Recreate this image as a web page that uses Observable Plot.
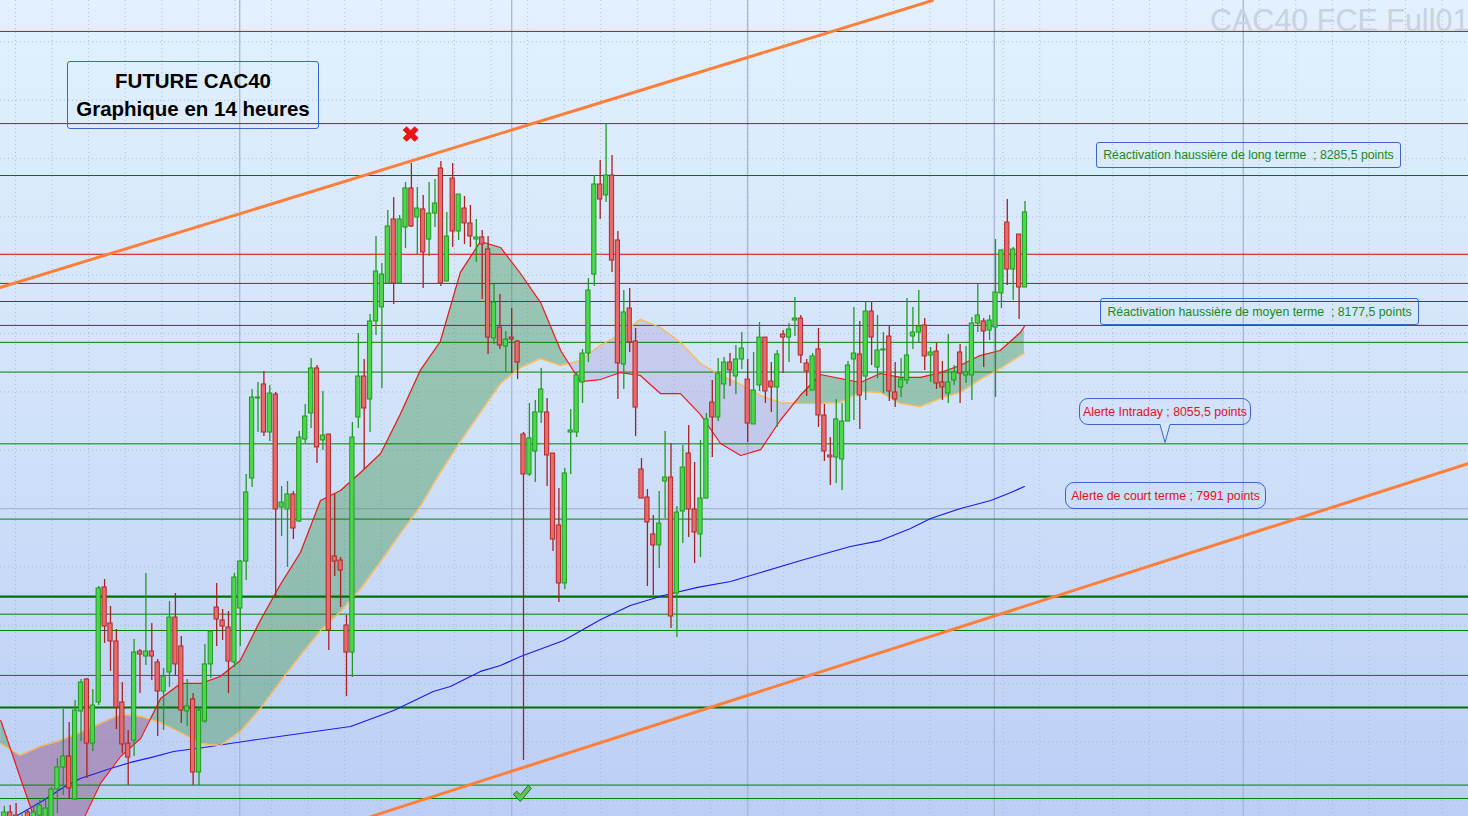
<!DOCTYPE html>
<html><head><meta charset="utf-8">
<script src="https://cdn.jsdelivr.net/npm/d3@7"></script>
<script src="https://cdn.jsdelivr.net/npm/@observablehq/plot@0.6"></script>
<style>
body{margin:0;background:#fff;}
#wrap{position:relative;width:1468px;height:816px;overflow:hidden;font-family:"Liberation Sans",Arial,sans-serif;}
.box{position:absolute;box-sizing:border-box;border:1px solid #3a66cc;display:flex;align-items:center;justify-content:center;white-space:pre;}
.title{left:67px;top:61px;width:252px;height:68px;border-radius:3px;flex-direction:column;font-weight:bold;font-size:20.5px;line-height:28px;color:#000;}
.lab{font-size:12.3px;}
.green{color:#1a8a1a;border-radius:3px;}
.red{color:#e8101a;border-radius:9px;}
#wm{position:absolute;left:1210px;top:3px;font-size:30.5px;color:#c6d3e0;white-space:nowrap;}
</style></head><body><div id="wrap"></div>
<script>
// ---- candle data (index = 14h bar) ----
const candleOpen=[7724.1,7739.5,7736.9,7719.8,7739.5,7728.4,7736.9,7732.6,7732.6,7759.2,7778.1,7787.5,7750.6,7826.1,7853.5,7798.6,7833.8,7932.4,7901.5,7886.1,7833.8,7798.6,7801.2,7877.5,7873.2,7877.5,7868.1,7843.2,7859.5,7906.6,7881.8,7826.1,7836.4,7773.8,7817.5,7866.4,7915.2,7904.1,7898.1,7868.1,7914.4,7954.6,8025.8,8094.4,8106.4,8065.2,8097.8,8000.9,7999.2,8012.1,7988.9,8059.2,8081.5,8120.1,8058.4,8063.5,7958.9,7955.5,7899.8,7876.6,8078.1,8113.2,8093.5,8160.4,8172.4,8192.9,8247.8,8192.9,8240.9,8274.4,8249.5,8256.4,8230.6,8252.9,8291.5,8194.6,8282.9,8237.5,8257.2,8244.4,8230.6,8232.4,8222.1,8145.8,8155.2,8138.9,8146.6,8143.2,8063.5,8029.2,8048.9,8082.4,8082.4,8047.2,7985.5,7935.8,8065.2,8065.2,8108.1,8132.9,8200.6,8277.8,8268.4,8285.5,8229.8,8123.5,8171.5,8143.2,8033.5,8009.5,7977.8,7968.4,8023.2,8026.6,7927.2,7997.5,8047.2,7999.2,7977.8,8008.6,8090.9,8078.1,8106.4,8125.2,8113.2,8127.8,8110.6,8072.1,8105.5,8146.6,8108.9,8103.8,8149.2,8146.6,8161.2,8162.9,8124.4,8101.2,8136.4,8079.8,8045.5,8043.8,8042.1,8074.6,8127.8,8132.1,8113.2,8168.9,8120.9,8135.5,8147.5,8099.5,8103.8,8109.8,8147.5,8150.9,8157,8131.2,8134.6,8108.1,8098.6,8109.8,8133.8,8114.1,8114.1,8158.6,8160.4,8152.6,8155.2,8184.4,8245.2,8204.9,8234.9,8189.5];
const candleHigh=[7744.6,7745.5,7747.2,7739.5,7741.2,7745.5,7749.8,7751.5,7760.9,7785.8,7827.8,7816.6,7835.5,7853.5,7854.4,7844.9,7933.2,7939.2,7916.1,7896.4,7850.9,7809.8,7887.8,7879.2,7944.4,7901.5,7870.6,7862.9,7920.4,7927.2,7890.4,7853.5,7841.5,7830.4,7883.5,7894.6,7935.8,7913.5,7911.8,7944.4,7955.5,8029.2,8102.1,8108.1,8117.5,8105.5,8099.5,8018.9,8023.2,8014.6,8066.1,8089.2,8128.6,8122.6,8100.4,8063.5,8012.1,7958.1,7908.4,8073.8,8150.1,8127.8,8166.4,8233.2,8210.1,8255.5,8266.6,8251.2,8279.5,8295.8,8275.2,8268.4,8279.5,8282.1,8297.5,8253.8,8295.8,8269.2,8267.5,8259.8,8247.8,8238.4,8233.2,8192.1,8183.5,8151.8,8171.5,8144,8065.2,8090.1,8092.6,8120.1,8094.4,8047.2,8017.2,8034.4,8084.9,8116.6,8136.4,8197.2,8285.5,8298.4,8330.1,8302.6,8237.5,8186.9,8188.6,8154.4,8042.9,8016.4,7994.1,8014.6,8066.1,8055.8,8001.8,8054.1,8071.2,8039.5,8058.4,8081.5,8109.8,8128.6,8129.5,8132.9,8139.8,8150.9,8127.8,8133.8,8159.5,8146.6,8125.2,8135.5,8152.6,8158.6,8180.9,8165.5,8127.8,8132.9,8154.4,8089.2,8060.9,8093.5,8090.1,8126.1,8172.4,8160.4,8176.6,8176.6,8165.5,8150.9,8157,8125.2,8128.6,8180.1,8172.4,8186.9,8162.9,8138.1,8141.5,8126.1,8149.2,8122.6,8140.6,8138.9,8163.8,8192.1,8162.9,8165.5,8230.6,8221.3,8264.9,8223.8,8234.9,8263.2];
const candleLow=[7719.8,7724.1,7715.5,7715.5,7724.1,7719.8,7724.1,7724.1,7730.9,7738.6,7754.1,7750.6,7749.8,7800.4,7768.6,7791.8,7831.2,7884.4,7860.4,7810.6,7790.1,7762.6,7787.5,7841.5,7865.5,7852.6,7804.6,7809.8,7846.6,7856.9,7815.8,7813.2,7762.6,7762.6,7816,7854.4,7881.8,7886.9,7841.5,7863.8,7881.8,7938.4,8018.1,8065.2,8061.8,8057.5,7922.9,7976.1,7949.5,7973.5,7988,8055.8,8068.6,8038.6,8049.8,7878.4,7941.8,7915.2,7838.9,7855.2,8068.6,8033.5,8065.2,8148.4,8102.9,8192.9,8174.9,8192.9,8222.9,8240.9,8217.8,8188.6,8216.1,8240.9,8190.4,8194.6,8223.8,8229.8,8226.4,8223.8,8210.9,8179.2,8132.1,8140.6,8136.4,8116.6,8115.8,8110.6,7784.1,8027.5,8022.4,8072.9,8018.9,7963.2,7919.5,7930.6,8029.2,8060.9,8090.1,8125.2,8190.4,8247.8,8262.4,8202.4,8093.5,8102.1,8133.8,8061.8,8008.6,7933.2,7925.5,7948.6,7991.5,7897.2,7889.5,7970.1,7975.2,7952.9,7958.1,8008.6,8043.8,8074.6,8093.5,8104.6,8097.8,8119.2,8056.6,8072.1,8100.4,8090.1,8082.4,8069.5,8115.8,8125.2,8147.5,8124.4,8096.1,8101.2,8069.5,8040.4,8019.8,8021.5,8015.5,8074.6,8075.5,8067.8,8092.7,8122.6,8111.5,8098.6,8091.8,8086.6,8095.2,8106.4,8136.4,8142.4,8118.4,8108.1,8102.1,8092.7,8090.1,8105.5,8090.1,8107.2,8092.7,8150.9,8120.9,8144,8095.2,8171.5,8191.2,8178.4,8162.1,8189.5];
const candleClose=[7739.5,7730.9,7724.1,7734.4,7728.4,7739.5,7745.5,7742.9,7759.2,7778.1,7787.5,7760.1,7826.9,7850.9,7798.6,7831.2,7931.5,7898.9,7886.1,7829.5,7797.8,7786.6,7876.6,7874.9,7877.5,7873.2,7843.2,7856.1,7906.6,7866.4,7826.9,7830.4,7773.8,7826.9,7866.4,7894.6,7904.9,7898.9,7868.9,7940.9,7954.6,8013.8,8095.2,8095.2,8065.2,8098.6,7999.2,8005.2,8012.1,7982.9,8060.9,8078.9,8120.1,8052.4,8062.6,7895.5,7954.6,7946.9,7876.6,8060.9,8113.2,8085.8,8160.4,8203.2,8200.6,8241.8,8192.9,8247.8,8274.4,8241.8,8257.2,8219.5,8252.9,8261.5,8192.9,8233.2,8237.5,8269.2,8244.4,8233.2,8232.4,8226.4,8146.6,8176.6,8139.8,8144.9,8144.9,8125.2,8029.2,8060.1,8082.4,8102.1,8045.5,7973.5,7935.8,8030.1,8066.9,8114.1,8132.9,8186.9,8277.8,8264.9,8285.5,8212.6,8124.4,8168.1,8142.4,8086.6,8008.6,7988.1,7968.4,7987.2,8026.6,7907.5,7996.6,8035.2,7999.2,7979.5,8008.6,8076.4,8078.1,8115.8,8125.2,8118.4,8127.8,8137.2,8072.9,8101.2,8146.6,8100.4,8103.8,8132.1,8146.6,8153.5,8162.9,8131.2,8117.5,8130.4,8079.8,8048.9,8043.8,8076.4,8074.6,8122.6,8132.9,8096.9,8168.9,8146.6,8135.5,8136.4,8100.4,8093.5,8110.6,8131.2,8150.9,8156.1,8130.4,8133.8,8107.2,8103.8,8108.1,8116.7,8115.8,8116.7,8158.6,8165.5,8151.8,8161.2,8185.2,8221.3,8204.9,8222.1,8189.5,8253.8];

// ---- moving averages (bar index, value) ----
const maIdx=[-0.6,2.7,6.1,9.5,12.9,16.3,19.7,23.1,26.5,29.9,33.3,36.6,40.0,43.4,46.8,50.2,53.6,57.0,60.4,63.8,67.1,70.5,73.9,77.3,80.7,84.1,87.5,90.9,94.3,97.6,101.0,104.4,107.8,111.2,114.6,118.0,121.4,124.8,128.2,131.5,134.9,138.3,141.7,145.1,148.5,151.9,155.3,158.7,162.0,165.4,168.8,172.2,172.9];
const maShort=[7818.4,7769.5,7719.8,7706.9,7728.4,7764.4,7787.5,7802.9,7837.2,7850.1,7850.1,7856.1,7869.8,7904.1,7934.9,7962.4,8006.9,8015.5,8030.9,8047.2,8080.6,8118.4,8143.2,8202.4,8228.9,8223.8,8201.5,8176.6,8135.5,8108.9,8110.6,8116.6,8114.1,8098.6,8098.6,8080.6,8055.8,8045.5,8050.6,8075.5,8096.9,8114.9,8111.5,8108.1,8115.8,8112.4,8112.4,8116.6,8122.6,8131.2,8135.5,8150.9,8156.1];
const maLong=[7798.6,7788.4,7796.1,7801.2,7808.1,7815.8,7823.5,7821.8,7816.6,7808.1,7798.6,7796.9,7808.9,7828.6,7851.8,7874.1,7895.5,7911.8,7931.5,7954.6,7978.6,8001.8,8030.9,8057.5,8082.4,8107.2,8120.9,8128.6,8122.6,8126.9,8139.8,8149.2,8162.1,8155.2,8142.4,8124.4,8114.1,8106.4,8096.9,8090.9,8090.1,8090.1,8090.9,8100.4,8099.5,8090.1,8087.5,8094.4,8099.5,8110.6,8120.1,8131.2,8132.9];
const ma200Idx=[1.9,6.6,10.0,12.9,18.0,21.4,24.8,28.7,33.8,41.7,50.2,58.7,66.0,72.7,75.6,80.7,84.1,87.5,94.8,101.1,106.1,111.7,117.5,123.1,128.2,135.0,143.4,148.5,153.6,157.0,162.1,167.2,170.6,172.9];
const ma200=[7736.1,7749.8,7760.9,7768.6,7777.2,7782.4,7786.6,7791.8,7795.2,7801.2,7807.2,7813.2,7826.9,7843.2,7847.5,7860.4,7865.5,7873.2,7886.9,7904.9,7916.9,7925.5,7932.4,7937.5,7945.2,7955.5,7967.5,7972.6,7982.9,7991.5,8000.1,8006.9,8013.8,8018.9];

// ---- levels ----
const redLevels=[8409,8330,8285.5,8218,8193,8177.5,8157];
const greenLevels=[8142.5,8117,8055.5,7991,7909.5,7895.5,7857,7763,7751.5];
const greenMajorLevels=[7924.5,7829.5];
const sessionBreaks=[39.9,86.0,126.0,167.8,210.0];
// trend channel (bar index, price)
const upperTrendIdx=[-0.7,157.3], upperTrend=[8189.5,8435.5];
const lowerTrendIdx=[62.1,248.2], lowerTrend=[7736,8038.7];
// signals
const sellSignal={i:68.9,p:8320.6}, buySignal={i:87.8,p:7755.5};

const W=1468,H=816;
const candles=candleOpen.map((o,i)=>({i,o,h:candleHigh[i],l:candleLow[i],c:candleClose[i],up:candleClose[i]>=o}));

// fill between short and long MA, split at crossings
const pts=maIdx.map((x,i)=>({x,r:maShort[i],o:maLong[i]}));
const runs=[];let cur=null;
pts.forEach((p,i)=>{
  const s=p.r>=p.o?1:-1;
  if(!cur){cur={s,pts:[p]};runs.push(cur);return;}
  if(s===cur.s){cur.pts.push(p);return;}
  const q=pts[i-1],d0=q.r-q.o,d1=p.r-p.o,t=d0/(d0-d1);
  const cx=q.x+t*(p.x-q.x),cy=q.r+t*(p.r-q.r);
  const c={x:cx,r:cy,o:cy};
  cur.pts.push(c);cur={s,pts:[c,p]};runs.push(cur);
});
const upFill=[],dnFill=[];let dnCount=0;
const dnColors=["rgba(140,70,120,0.42)","rgba(160,140,200,0.28)"];
runs.forEach((r,j)=>{
  if(r.s>0) r.pts.forEach(p=>upFill.push({...p,run:j}));
  else {const col=dnColors[Math.min(dnCount,1)];dnCount++;r.pts.forEach(p=>dnFill.push({...p,run:j,col}));}
});

// check-mark symbol for the buy signal
const checkSymbol={draw(ctx,size){const s=Math.sqrt(size/Math.PI);
  const p=[[-1,0.05],[-0.62,-0.3],[-0.22,0.1],[0.66,-0.95],[1,-0.6],[-0.22,0.85]];
  ctx.moveTo(p[0][0]*s,p[0][1]*s);for(let k=1;k<p.length;k++)ctx.lineTo(p[k][0]*s,p[k][1]*s);ctx.closePath();}};

const xDomain=[-0.644,(W-3.8)/5.9];
const yDomain=[8435.5-H*6/7,8435.5];

const chart=Plot.plot({
  width:W,height:H,margin:0,
  style:{background:"linear-gradient(to bottom,#e2f1fd 0%,#d3e4fa 45%,#bccef5 100%)",overflow:"hidden"},
  x:{domain:xDomain,range:[0,W],axis:null},
  y:{domain:yDomain,range:[H,0],axis:null},
  marks:[
    Plot.ruleY(d3.range(7750,8450,50),{stroke:"#9db3cf",strokeDasharray:"1,3",strokeOpacity:0.8}),
    Plot.ruleX(d3.range(1.9,250,6.2),{stroke:"#9db3cf",strokeDasharray:"1,3",strokeOpacity:0.8}),
    Plot.ruleY([8000],{stroke:"#a9b6cc",strokeWidth:1.2}),
    Plot.ruleX(sessionBreaks,{stroke:"#a7b6d4",strokeWidth:1.3}),
    Plot.areaY(upFill,{x:"x",y1:"o",y2:"r",z:"run",fill:"rgba(70,150,80,0.42)"}),
    Plot.areaY(dnFill,{x:"x",y1:"o",y2:"r",z:"run",fill:"col"}),
    Plot.ruleY(redLevels,{stroke:"#e00000",strokeWidth:1}),
    Plot.ruleY(greenLevels,{stroke:"#008000",strokeWidth:1}),
    Plot.ruleY(greenMajorLevels,{stroke:"#007000",strokeWidth:2.2}),
    Plot.line(ma200Idx.map((x,i)=>({x,y:ma200[i]})),{x:"x",y:"y",stroke:"#1c1cf0",strokeWidth:1.2}),
    Plot.line(pts,{x:"x",y:"o",stroke:"#ffb84a",strokeWidth:1.3}),
    Plot.line(pts,{x:"x",y:"r",stroke:"#f01818",strokeWidth:1.2}),
    Plot.line(upperTrendIdx.map((x,i)=>({x,y:upperTrend[i]})),{x:"x",y:"y",stroke:"#ff7f3a",strokeWidth:3}),
    Plot.line(lowerTrendIdx.map((x,i)=>({x,y:lowerTrend[i]})),{x:"x",y:"y",stroke:"#ff7f3a",strokeWidth:3}),
    Plot.ruleX(candles,{x:"i",y1:"l",y2:"h",stroke:d=>d.up?"#1f9a1f":"#a82020",strokeWidth:1.3}),
    Plot.rect(candles,{x1:d=>d.i-0.36,x2:d=>d.i+0.36,y1:"o",y2:"c",fill:d=>d.up?"#4cd64c":"#e86a6a",stroke:d=>d.up?"#1f9a1f":"#b02828",strokeWidth:1}),
    Plot.text([sellSignal],{x:"i",y:"p",text:()=>"✖",fill:"#f01010",stroke:"#8a0000",strokeWidth:0.6,fontSize:22,fontFamily:"DejaVu Sans"}),
    Plot.dot([buySignal],{x:"i",y:"p",symbol:checkSymbol,r:9,fill:"#5cc45c",stroke:"#1e7a1e",strokeWidth:1})
  ]
});
const wrap=document.getElementById("wrap");
wrap.appendChild(chart);
function add(html){wrap.insertAdjacentHTML("beforeend",html);}
add('<div id="wm">CAC40 FCE Full01</div>');
add('<div class="box title"><div>FUTURE CAC40</div><div>Graphique en 14 heures</div></div>');
add('<div class="box lab green" style="left:1096px;top:142px;width:305px;height:26px;">Réactivation haussière de long terme  ; 8285,5 points</div>');
add('<div class="box lab green" style="left:1100px;top:298px;width:319px;height:27px;">Réactivation haussière de moyen terme  ; 8177,5 points</div>');
add('<div class="box lab red" style="left:1079px;top:398px;width:172px;height:27px;">Alerte Intraday ; 8055,5 points</div>');
add('<svg style="position:absolute;left:1158px;top:423px" width="16" height="22"><path d="M2,1.5 L7,19.5 L12,1.5" fill="#d6e6fb" stroke="#3a66cc" stroke-width="1"/><rect x="2.6" y="0" width="9" height="2" fill="#d6e6fb"/></svg>');
add('<div class="box lab red" style="left:1065px;top:482px;width:201px;height:27px;">Alerte de court terme ; 7991 points</div>');
</script></body></html>
